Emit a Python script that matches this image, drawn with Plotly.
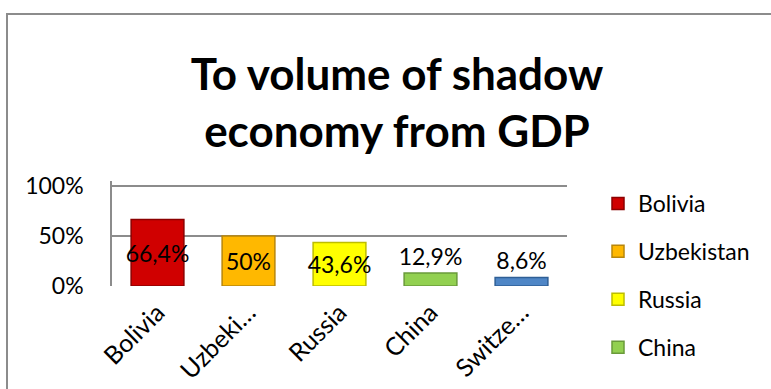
import plotly.graph_objects as go

countries = ["Bolivia", "Uzbekistan", "Russia", "China", "Switzerland"]
tick_labels = ["Bolivia", "Uzbeki…", "Russia", "China", "Switze…"]
values = [66.4, 50.0, 43.6, 12.9, 8.6]
value_labels = ["66,4%", "50%", "43,6%", "12,9%", "8,6%"]
colors = ["#D00000", "#FFB800", "#FFFF00", "#92D050", "#4F86C6"]
edge_colors = ["#8C0000", "#B8860B", "#BDBD00", "#6A9A3A", "#2F5F96"]
text_pos = ["inside", "inside", "inside", "outside", "outside"]
in_legend = [True, True, True, True, False]

FONT = "Lato"
FS = 23
fig = go.Figure()
for i, c in enumerate(countries):
    fig.add_trace(go.Bar(
        x=[i], y=[values[i]], name=c, legendgroup=c,
        showlegend=in_legend[i],
        marker=dict(color=colors[i], line=dict(color=edge_colors[i], width=1.5)),
        width=0.58,
        text=[value_labels[i]], textposition=text_pos[i], textangle=0,
        insidetextanchor="middle", constraintext="none",
        textfont=dict(size=FS, color="black", family=FONT),
        cliponaxis=False,
    ))

W, H = 771, 389
L, R, T, B = 112, 204, 181, 103
pw, ph = W - L - R, H - T - B

def px(x):
    return (x - L) / pw

def py(y):
    return (H - B - y) / ph

fig.update_layout(
    width=W, height=H,
    margin=dict(l=L, r=R, t=T, b=B, autoexpand=False),
    paper_bgcolor="white", plot_bgcolor="white",
    barmode="overlay",
    font=dict(family=FONT, color="black", size=FS),
    title=dict(text="<b>To volume of shadow<br>economy from GDP</b>",
               x=397 / W, xanchor="center", y=1 - 90 / H, yanchor="middle",
               yref="container", font=dict(size=44, family=FONT, color="black")),
    xaxis=dict(tickmode="array", tickvals=list(range(5)), ticktext=tick_labels,
               tickangle=-45, range=[-0.5, 4.5], showgrid=False, zeroline=False,
               showline=False, ticks="", automargin=False, ticklabelstandoff=6,
               tickfont=dict(size=25, family=FONT)),
    yaxis=dict(range=[0, 105], tickvals=[0, 50, 100], ticktext=["0%", "50%", "100%"],
               showgrid=True, gridcolor="#8C8C8C", gridwidth=1.5, zeroline=False,
               showline=True, linecolor="#8C8C8C", linewidth=1.5, ticks="",
               ticklen=0, ticklabelstandoff=22, automargin=False,
               tickfont=dict(size=FS, family=FONT)),
    legend=dict(x=px(598), y=py(182), xanchor="left", yanchor="top",
                font=dict(size=FS, family=FONT), tracegroupgap=15,
                maxheight=400, bgcolor="rgba(0,0,0,0)"),
    showlegend=True,
)
fig.add_shape(type="rect", xref="paper", yref="paper",
              x0=px(7), x1=px(790), y0=py(400), y1=py(14),
              line=dict(color="#8C8C8C", width=2), layer="below")
fig.write_html("out.html", config={"displayModeBar": False},
               post_script="document.body.style.margin='0';")
